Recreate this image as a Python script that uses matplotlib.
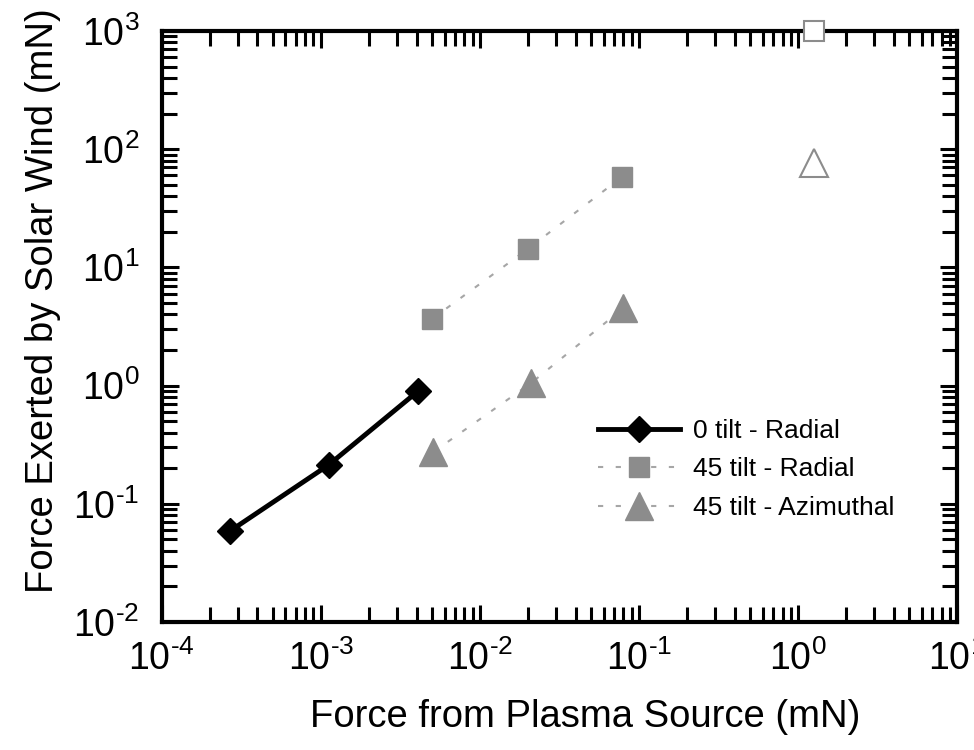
import math

import matplotlib
matplotlib.use("Agg")
import matplotlib.pyplot as plt
from matplotlib.ticker import LogLocator, FuncFormatter, NullFormatter

plt.rcParams['font.family'] = ['Liberation Sans', 'DejaVu Sans']
plt.rcParams['mathtext.fontset'] = 'custom'
plt.rcParams['mathtext.rm'] = 'Liberation Sans'
plt.rcParams['mathtext.it'] = 'Liberation Sans'

# data (mN)
tilt0_rad_x = [2.7e-4, 1.12e-3, 4.1e-3]
tilt0_rad_y = [0.059, 0.213, 0.90]

tilt45_rad_x = [5.0e-3, 2.0e-2, 7.8e-2]
tilt45_rad_y = [3.66, 14.3, 58.0]
tilt45_rad_open_x = [1.26]
tilt45_rad_open_y = [1000.0]

tilt45_az_x = [5.1e-3, 2.1e-2, 8.0e-2]
tilt45_az_y = [0.274, 1.05, 4.53]
tilt45_az_open_x = [1.26]
tilt45_az_open_y = [76.0]

grey = '#8c8c8c'
dash_grey = '#a6a6a6'

fig = plt.figure(figsize=(9.74, 7.5), dpi=100)
ax = fig.add_axes([0.166, 0.1707, 0.8166, 0.788])

ax.plot(tilt0_rad_x, tilt0_rad_y, color='black', lw=3.5, marker='D',
        ms=13, mfc='black', mec='black', label='0 tilt - Radial', zorder=4)
ax.plot(tilt45_rad_x, tilt45_rad_y, color=dash_grey, lw=1.5, ls=(0, (2.5, 6)),
        marker='s', ms=14, mfc=grey, mec=grey, label='45 tilt - Radial', zorder=3)
ax.plot(tilt45_az_x, tilt45_az_y, color=dash_grey, lw=1.5, ls=(0, (2.5, 6)),
        marker='^', ms=20, mfc=grey, mec=grey, label='45 tilt - Azimuthal', zorder=3)
ax.plot(tilt45_rad_open_x, tilt45_rad_open_y, ls='none', marker='s', ms=14,
        mfc='white', mec=grey, mew=1.5, clip_on=False, zorder=5)
ax.plot(tilt45_az_open_x, tilt45_az_open_y, ls='none', marker='^', ms=20,
        mfc='white', mec=grey, mew=1.5, zorder=5)

ax.set_xscale('log')
ax.set_yscale('log')
ax.set_xlim(1e-4, 1e1)
ax.set_ylim(1e-2, 1e3)


def pow_label(v, pos):
    e = round(math.log10(v))
    s = str(e).replace('-', '\u2010')
    return r'$\mathregular{10^{%s}}$' % s


for axis in (ax.xaxis, ax.yaxis):
    axis.set_major_locator(LogLocator(base=10, numticks=10))
    axis.set_minor_locator(LogLocator(base=10, subs=range(2, 10), numticks=20))
    axis.set_major_formatter(FuncFormatter(pow_label))
    axis.set_minor_formatter(NullFormatter())

ax.tick_params(which='both', direction='in', top=True, right=True, width=2.2)
ax.tick_params(which='major', length=12, labelsize=27)
ax.tick_params(which='minor', length=11)
ax.tick_params(axis='x', which='major', pad=13)
ax.tick_params(axis='y', which='major', pad=16)
for s in ax.spines.values():
    s.set_linewidth(3)

ax.set_xlabel('Force from Plasma Source (mN)', fontsize=27.5)
ax.set_ylabel('Force Exerted by Solar Wind (mN)', fontsize=27.5)
ax.xaxis.set_label_coords(0.532, -0.130)
ax.yaxis.set_label_coords(-0.127, 0.543)

ax.legend(loc='center left', bbox_to_anchor=(0.614, 0.374),
          bbox_transform=fig.transFigure, frameon=False, fontsize=19,
          numpoints=1, handlelength=3.1, handletextpad=0.5,
          borderpad=0, borderaxespad=0, labelspacing=0.55)

fig.savefig('out.png', dpi=100)
